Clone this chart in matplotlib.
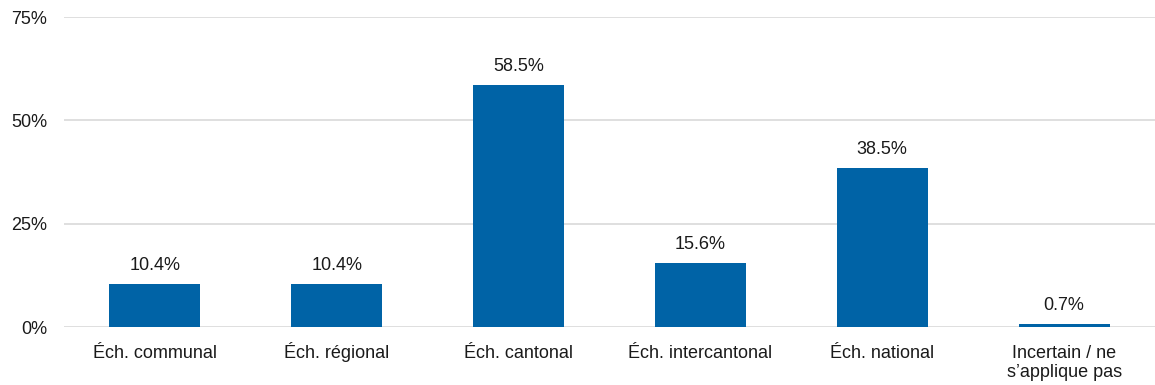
import numpy as np
import matplotlib.pyplot as plt

plt.rcParams['font.family'] = ['Liberation Sans', 'DejaVu Sans']
plt.rcParams['font.size'] = 13

categories = ['Éch. communal', 'Éch. régional', 'Éch. cantonal',
              'Éch. intercantonal', 'Éch. national',
              'Incertain / ne\ns\u2019applique pas']
values = [10.4, 10.4, 58.5, 15.6, 38.5, 0.7]
yticks = [0, 25, 50, 75]

fig = plt.figure(figsize=(11.55, 3.85), dpi=100)
ax = fig.add_axes([0.0554, 0.1506, 0.9446, 0.8052])

x = np.arange(len(categories))
ax.bar(x, values, width=0.5, color='#0063a6', zorder=3)
for xi, v in zip(x, values):
    ax.annotate(f'{v:.1f}%', (xi, v), xytext=(0, 7), textcoords='offset points',
                ha='center', va='bottom', fontsize=13, color='#1a1a1a')

# category labels: first lines share one baseline 22pt under the axis
line_step = 13.7
for xi, lab in zip(x, categories):
    extra = lab.count('\n') * line_step
    ax.annotate(lab, (xi, 0), xycoords=('data', 'axes fraction'),
                xytext=(0, -22 - extra), textcoords='offset points',
                ha='center', va='baseline', multialignment='center',
                linespacing=1.1, fontsize=13, color='#1a1a1a')

ax.set_xlim(-0.5, len(categories) - 0.5)
ax.set_ylim(0, 75)
ax.set_yticks(yticks)
ax.set_yticklabels([f'{t}%' for t in yticks])
ax.set_xticks(x)
ax.set_xticklabels([])
ax.yaxis.grid(True, color='#d9d9d9', linewidth=1.2, zorder=0)
ax.tick_params(axis='both', length=0, labelsize=13, colors='#1a1a1a')
ax.tick_params(axis='y', pad=12)
for s in ax.spines.values():
    s.set_visible(False)

fig.savefig('out.png', dpi=100)
